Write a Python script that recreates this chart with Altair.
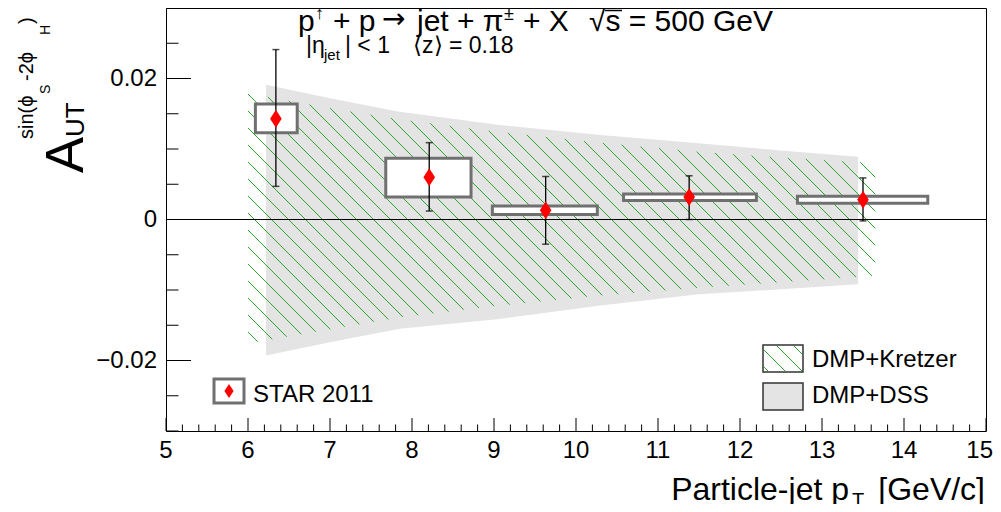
import altair as alt
import pandas as pd
import numpy as np

# ---------------- data ----------------
pt_x = [6.34, 8.21, 9.63, 11.38, 13.50]
pt_y = [0.0143, 0.0060, 0.0013, 0.0032, 0.0028]
err_hi = [0.0241, 0.0109, 0.0061, 0.0062, 0.0059]
err_lo = [0.0047, 0.0012, -0.0035, 0.0000, -0.0002]

sys_x_lo = [6.09, 7.68, 8.98, 10.58, 12.70]
sys_x_hi = [6.60, 8.72, 10.26, 12.20, 14.29]
sys_y_lo = [0.0123, 0.0032, 0.0007, 0.0027, 0.0023]
sys_y_hi = [0.0164, 0.0087, 0.0019, 0.0036, 0.0033]

dss_x = [6.22, 7.0, 7.85, 9.07, 10.3, 11.5, 12.5, 13.44]
dss_hi = [0.0191, 0.0172, 0.0153, 0.0134, 0.0120, 0.0108, 0.0098, 0.0089]
dss_lo = [-0.0193, -0.0174, -0.0155, -0.0141, -0.0122, -0.0106, -0.0099, -0.0092]

kre_x = [6.0, 7.0, 7.85, 9.0, 10.3, 11.5, 12.5, 13.65]
kre_hi = [0.0179, 0.0158, 0.0142, 0.0125, 0.0109, 0.0096, 0.0088, 0.0080]
kre_lo = [-0.0176, -0.0156, -0.0139, -0.0123, -0.0108, -0.0097, -0.0089, -0.0080]

x_tick_values = [5, 6, 7, 8, 9, 10, 11, 12, 13, 14, 15]
x_tick_text = ["5", "6", "7", "8", "9", "10", "11", "12", "13", "14", "15"]
y_tick_values = [-0.02, 0.0, 0.02]
y_tick_text = ["\u22120.02", "0", "0.02"]
x_minor = [round(5 + 0.2 * i, 2) for i in range(51) if i % 5]
y_minor = [-0.03, -0.025, -0.015, -0.01, -0.005, 0.005, 0.01, 0.015, 0.025, 0.03]

# ---------------- layout ----------------
W, H = 820, 423
FONT = "Liberation Sans"
PX_X = W / 10.0
PX_Y = H / 0.06
xs = alt.Scale(domain=[5, 15], nice=False, zero=False)
ys = alt.Scale(domain=[-0.03, 0.03], nice=False, zero=False)
one = pd.DataFrame({"k": [0]})
DIAMOND = "M0,-1L0.65,0L0,1L-0.65,0Z"
GREEN = "#2ea62e"


def X(f):
    return alt.X(f, scale=xs, axis=None)


def Y(f):
    return alt.Y(f, scale=ys, axis=None)


def txt(s, x, y, size, angle=0, align="left", baseline="alphabetic", font=FONT):
    return alt.Chart(one).mark_text(
        text=s, font=font, fontSize=size, angle=angle, align=align,
        baseline=baseline, color="black"
    ).encode(x=alt.value(x), y=alt.value(y))


layers = []

# gray band (DMP+DSS)
dss_df = pd.DataFrame({"x": dss_x, "hi": dss_hi, "lo": dss_lo})
layers.append(
    alt.Chart(dss_df).mark_area(color="#e4e4e4", opacity=1).encode(
        x=X("x:Q"), y=Y("lo:Q"), y2="hi:Q")
)

# hatched band (DMP+Kretzer): 45-degree lines clipped to the band
slope = PX_X / PX_Y
spacing = 17.0 / PX_Y
xx = np.linspace(kre_x[0], kre_x[-1], 4000)
top = np.interp(xx, kre_x, kre_hi)
bot = np.interp(xx, kre_x, kre_lo)
segs = []
for k in range(-40, 40):
    c = 0.0178 + k * spacing
    yl = c - slope * (xx - kre_x[0])
    m = np.where((yl <= top) & (yl >= bot))[0]
    if len(m) > 1:
        segs.append((xx[m[0]], yl[m[0]], xx[m[-1]], yl[m[-1]]))
hatch_df = pd.DataFrame(segs, columns=["x1", "y1", "x2", "y2"])
layers.append(
    alt.Chart(hatch_df).mark_rule(color=GREEN, strokeWidth=1).encode(
        x=X("x1:Q"), y=Y("y1:Q"), x2="x2:Q", y2="y2:Q")
)

# systematic boxes
sys_df = pd.DataFrame({"xl": sys_x_lo, "xh": sys_x_hi, "yl": sys_y_lo, "yh": sys_y_hi})
layers.append(
    alt.Chart(sys_df).mark_rect(fill="white", stroke="#707070", strokeWidth=3).encode(
        x=X("xl:Q"), x2="xh:Q", y=Y("yl:Q"), y2="yh:Q")
)

# zero line
layers.append(
    alt.Chart(pd.DataFrame({"z": [0.0]})).mark_rule(color="black", strokeWidth=1).encode(
        y=Y("z:Q"), x=alt.value(0), x2=alt.value(W))
)

# error bars + caps
pts_df = pd.DataFrame({"x": pt_x, "y": pt_y, "hi": err_hi, "lo": err_lo})
layers.append(
    alt.Chart(pts_df).mark_rule(color="black", strokeWidth=1.3).encode(
        x=X("x:Q"), y=Y("lo:Q"), y2="hi:Q")
)
for col in ["hi", "lo"]:
    layers.append(
        alt.Chart(pts_df).mark_tick(orient="horizontal", size=7, thickness=1.5, color="black").encode(
            x=X("x:Q"), y=Y(col + ":Q"))
    )
# points
layers.append(
    alt.Chart(pts_df).mark_point(shape=DIAMOND, filled=True, fill="#ff0000", color="#ff0000",
                                 size=320, opacity=1, strokeWidth=0).encode(
        x=X("x:Q"), y=Y("y:Q"))
)

# inner ticks
layers.append(alt.Chart(pd.DataFrame({"t": x_tick_values})).mark_rule(color="black", strokeWidth=1).encode(
    x=X("t:Q"), y=alt.value(H), y2=alt.value(H - 13)))
layers.append(alt.Chart(pd.DataFrame({"t": x_minor})).mark_rule(color="black", strokeWidth=1).encode(
    x=X("t:Q"), y=alt.value(H), y2=alt.value(H - 6.5)))
layers.append(alt.Chart(pd.DataFrame({"t": y_tick_values})).mark_rule(color="black", strokeWidth=1).encode(
    y=Y("t:Q"), x=alt.value(0), x2=alt.value(25)))
layers.append(alt.Chart(pd.DataFrame({"t": y_minor})).mark_rule(color="black", strokeWidth=1).encode(
    y=Y("t:Q"), x=alt.value(0), x2=alt.value(12.5)))

# tick labels (the last x label is kept inside the page)
xl_df = pd.DataFrame({"t": x_tick_values, "s": x_tick_text})
layers.append(alt.Chart(xl_df.iloc[:-1]).mark_text(
    font=FONT, fontSize=24, align="center", baseline="alphabetic", color="black").encode(
    x=X("t:Q"), y=alt.value(H + 27), text="s:N"))
layers.append(alt.Chart(xl_df.iloc[-1:]).mark_text(
    font=FONT, fontSize=24, align="right", baseline="alphabetic", color="black", dx=7).encode(
    x=X("t:Q"), y=alt.value(H + 27), text="s:N"))
layers.append(alt.Chart(pd.DataFrame({"t": y_tick_values, "s": y_tick_text})).mark_text(
    font=FONT, fontSize=24, align="right", baseline="middle", color="black").encode(
    y=Y("t:Q"), x=alt.value(-9), text="s:N"))

# ---------------- legends ----------------
bx0, bx1, by0, by1 = 597, 637, 337, 364
layers.append(alt.Chart(one).mark_rect(fill="white", stroke="#333333", strokeWidth=1.5).encode(
    x=alt.value(bx0), x2=alt.value(bx1), y=alt.value(by0), y2=alt.value(by1)))
for k in range(-3, 3):
    c = by0 + 4 + 17 * k
    xa = max(bx0 + 1, bx0 + (by0 + 1 - c))
    xb = min(bx1 - 1, bx0 + (by1 - 1 - c))
    if xb > xa + 1:
        layers.append(alt.Chart(one).mark_rule(color=GREEN, strokeWidth=1).encode(
            x=alt.value(xa), y=alt.value(c + (xa - bx0)),
            x2=alt.value(xb), y2=alt.value(c + (xb - bx0))))
layers.append(txt("DMP+Kretzer", 646, 359, 24))
layers.append(alt.Chart(one).mark_rect(fill="#e4e4e4", stroke="#333333", strokeWidth=1.5).encode(
    x=alt.value(597), x2=alt.value(637), y=alt.value(375), y2=alt.value(402)))
layers.append(txt("DMP+DSS", 646, 395, 24))
layers.append(alt.Chart(one).mark_rect(fill="white", stroke="#707070", strokeWidth=3).encode(
    x=alt.value(48), x2=alt.value(78), y=alt.value(371), y2=alt.value(395)))
layers.append(alt.Chart(one).mark_point(shape=DIAMOND, filled=True, fill="#ff0000", color="#ff0000",
                                        size=200, opacity=1, strokeWidth=0).encode(
    x=alt.value(63), y=alt.value(383)))
layers.append(txt("STAR 2011", 87, 394, 24))

# ---------------- annotation text ----------------
layers.append(txt("p", 132, 23, 30))
layers.append(txt("\u2191", 149, 11, 18))
layers.append(txt("+ p", 167, 23, 30))
layers.append(txt("\u2192", 216, 20, 28, font="DejaVu Sans"))
layers.append(txt("jet + \u03c0", 251, 23, 30))
layers.append(txt("\u00b1", 338, 12, 18))
layers.append(txt("+ X", 357, 23, 30))
layers.append(txt("\u221as = 500 GeV", 607, 23, 30, align="right"))
# overline of the square root
layers.append(alt.Chart(one).mark_rule(color="black", strokeWidth=1.5).encode(
    x=alt.value(439), x2=alt.value(456), y=alt.value(2.5)))
layers.append(txt("|\u03b7", 140, 45, 23))
layers.append(txt("jet", 158, 52, 15))
layers.append(txt("| < 1", 179, 45, 23))
layers.append(txt("\u27e8z\u27e9 = 0.18", 247, 45, 23))

# x-axis title
layers.append(txt("Particle-jet p", 683, 492, 32, align="right"))
layers.append(txt("T", 686, 499, 20))
layers.append(txt("[GeV/c]", 819, 492, 32, align="right"))

# y-axis title (rotated)
layers.append(txt("A", -83, 165, 54, angle=270))
layers.append(txt("UT", -82, 129, 26, angle=270))
layers.append(txt("sin(\u03d5", -133, 131, 20, angle=270))
layers.append(txt("S", -116, 86, 14, angle=270))
layers.append(txt("-2\u03d5", -133, 73, 20, angle=270))
layers.append(txt("H", -116, 27, 14, angle=270))
layers.append(txt(")", -133, 16, 20, angle=270))

chart = alt.layer(*layers).properties(
    width=W, height=H,
    padding={"left": 158, "top": 0, "right": 7, "bottom": 73},
    autosize=alt.AutoSizeParams(type="none"),
).configure_view(stroke="black", strokeWidth=1)

chart.save("out.html", embed_options={"renderer": "svg", "actions": False})
